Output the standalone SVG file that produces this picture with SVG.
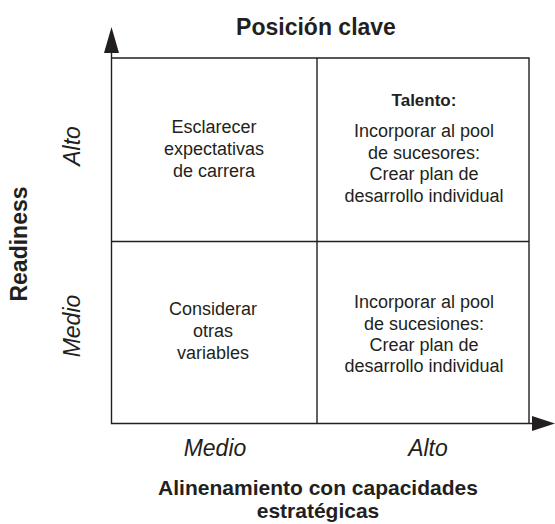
<svg xmlns="http://www.w3.org/2000/svg" width="555" height="524" viewBox="0 0 555 524">
<style>
.ln{stroke:#231f20;stroke-width:1.4;fill:none}
.ah{fill:#231f20}
text{font-family:"Liberation Sans",Arial,Helvetica,sans-serif;fill:#231f20;text-anchor:middle}
.cell{font-size:18px}
.hd{font-size:17px;font-weight:bold}
.ttl{font-size:23px;font-weight:bold}
.axb{font-size:21px;font-weight:bold}
.it{font-size:23px;font-style:italic}
</style>
<rect width="555" height="524" fill="#ffffff"/>
<g id="connectors">
<path class="ln" d="M111.5,50 V423.5 H535"/>
<path class="ah" d="M111.5,27 L104,53 L119,53 Z"/>
<path class="ah" d="M555,423.5 L532,416 L532,431 Z"/>
<path class="ln" d="M111.5,58 H529 V423.5 M317,58 V423.5 M111.5,241.5 H529"/>
</g>
<g id="title"><text class="ttl" x="316" y="35">Posición clave</text></g>
<g id="axis-y">
<text class="ttl" transform="translate(27,244) rotate(-90)">Readiness</text>
<text class="it" transform="translate(80,146) rotate(-90)">Alto</text>
<text class="it" transform="translate(80,326) rotate(-90)">Medio</text>
</g>
<g id="axis-x">
<text class="it" x="215" y="456">Medio</text>
<text class="it" x="428" y="456">Alto</text>
<text class="axb" x="318" y="495">Alinenamiento con capacidades</text>
<text class="axb" x="318" y="518">estratégicas</text>
</g>
<g id="cell-alto-medio">
<text class="cell" x="214" y="133">Esclarecer</text>
<text class="cell" x="214" y="155">expectativas</text>
<text class="cell" x="214" y="177">de carrera</text>
</g>
<g id="cell-alto-alto">
<text class="hd" x="424" y="106">Talento:</text>
<text class="cell" x="424" y="137">Incorporar al pool</text>
<text class="cell" x="424" y="159">de sucesores:</text>
<text class="cell" x="424" y="180">Crear plan de</text>
<text class="cell" x="424" y="202">desarrollo individual</text>
</g>
<g id="cell-medio-medio">
<text class="cell" x="213" y="315">Considerar</text>
<text class="cell" x="213" y="337">otras</text>
<text class="cell" x="213" y="359">variables</text>
</g>
<g id="cell-medio-alto">
<text class="cell" x="424" y="308">Incorporar al pool</text>
<text class="cell" x="424" y="330">de sucesiones:</text>
<text class="cell" x="424" y="351">Crear plan de</text>
<text class="cell" x="424" y="372">desarrollo individual</text>
</g>
</svg>
